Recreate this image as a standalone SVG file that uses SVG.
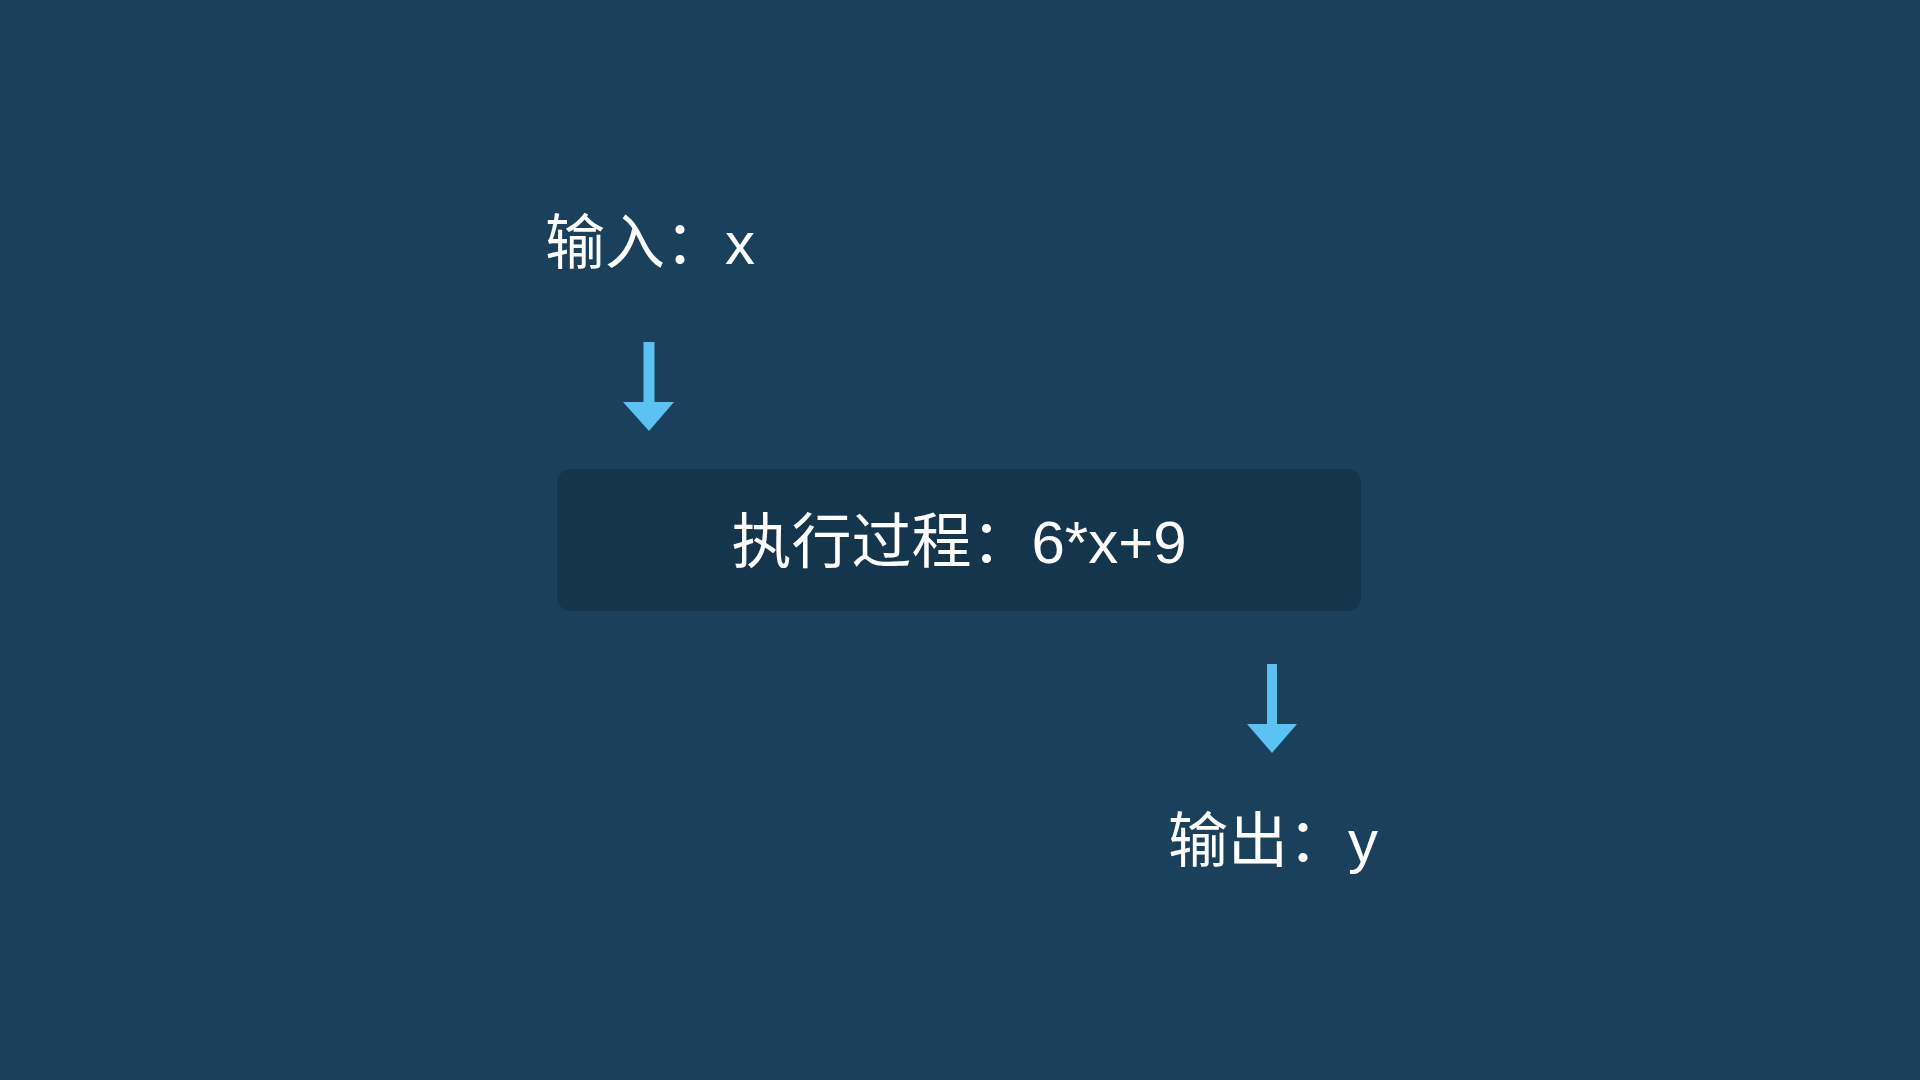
<svg xmlns="http://www.w3.org/2000/svg" width="1920" height="1080" viewBox="0 0 1920 1080">
  <style>
    .label { font-family: "Liberation Sans", "Noto Sans CJK SC", sans-serif; font-size: 60px; fill: #ffffff; }
    .arrow { fill: #5BC2F2; }
  </style>
  <rect x="0" y="0" width="1920" height="1080" fill="#1B405C"/>
  <g id="input">
    <text class="label" x="545" y="264">输入：x</text>
  </g>
  <g id="process">
    <rect x="557" y="469" width="804" height="142" rx="14" ry="14" fill="#15354C"/>
    <text class="label" x="959" y="563" text-anchor="middle">执行过程：6*x+9</text>
  </g>
  <g id="output">
    <text class="label" x="1168" y="862">输出：y</text>
  </g>
  <g id="connectors">
    <path class="arrow" d="M643.5,342 H654.5 V402 H674 L649,431 L623,402 H643.5 Z"/>
    <path class="arrow" d="M1267,664 H1277 V724 H1297 L1272,753 L1247,724 H1267 Z"/>
  </g>
</svg>
